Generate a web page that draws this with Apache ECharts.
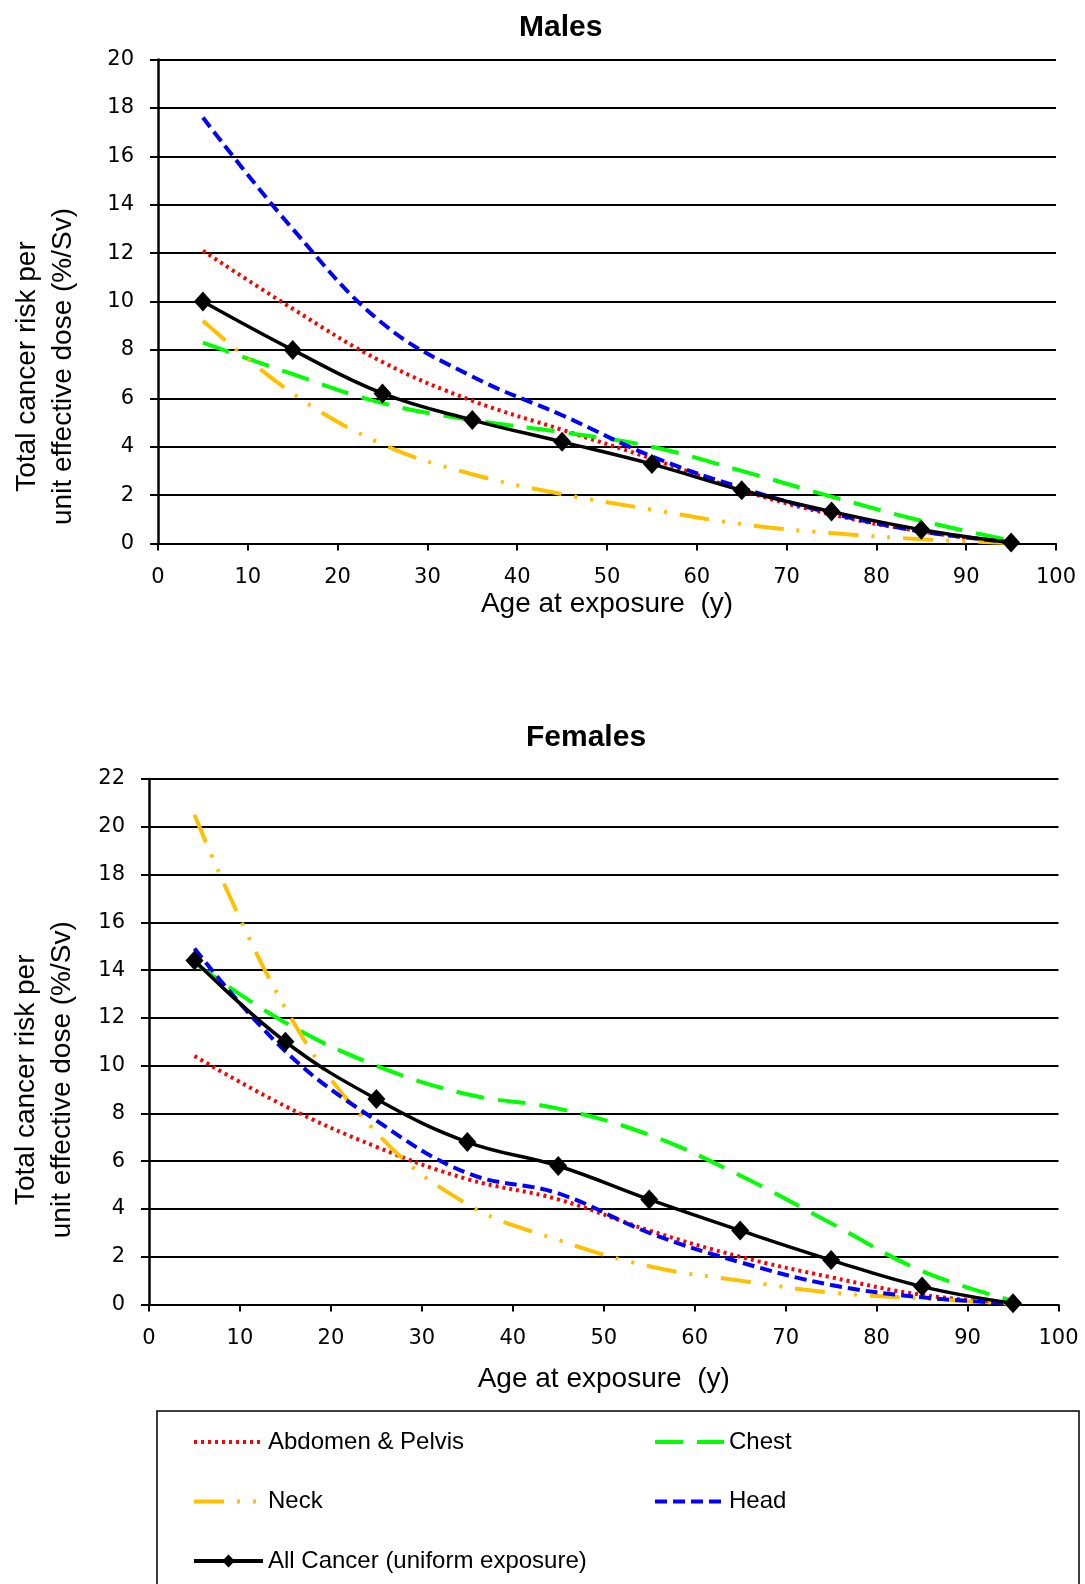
<!DOCTYPE html>
<html>
<head>
<meta charset="utf-8">
<script src="https://cdn.jsdelivr.net/npm/echarts@6/dist/echarts.min.js"></script>
<style>
html,body{margin:0;padding:0;background:#fff;}
#chart{width:1085px;height:1584px;}
</style>
</head>
<body>
<div id="chart"></div>
<script>
// ---- data ----
const ages = [5, 15, 25, 35, 45, 55, 65, 75, 85, 95];
const xTicks = [0, 10, 20, 30, 40, 50, 60, 70, 80, 90, 100];

const maleAbdomen = [12.1, 9.7, 7.5, 5.9, 4.7, 3.5, 2.2, 1.2, 0.5, 0.05];
const maleChest   = [8.3, 7.0, 5.8, 5.1, 4.6, 4.0, 3.0, 1.94, 0.94, 0.12];
const maleNeck    = [9.2, 6.2, 4.1, 2.86, 2.04, 1.4, 0.8, 0.43, 0.18, 0.02];
const maleHead    = [17.6, 13.0, 9.1, 6.9, 5.3, 3.6, 2.3, 1.25, 0.5, 0.05];
const maleAll     = [10.0, 8.0, 6.2, 5.1, 4.2, 3.28, 2.2, 1.32, 0.57, 0.04];

const femaleAbdomen = [10.4, 8.3, 6.6, 5.25, 4.4, 3.1, 2.0, 1.14, 0.4, 0.05];
const femaleChest   = [14.3, 11.8, 10.0, 8.8, 8.2, 7.1, 5.4, 3.4, 1.4, 0.15];
const femaleNeck    = [20.5, 12.4, 7.2, 4.2, 2.7, 1.6, 1.0, 0.5, 0.25, 0.03];
const femaleHead    = [14.9, 10.6, 7.7, 5.5, 4.65, 3.0, 1.77, 0.82, 0.3, 0.05];
const femaleAll     = [14.4, 11.0, 8.6, 6.8, 5.8, 4.4, 3.1, 1.86, 0.75, 0.05];

const names = {
  abd: 'Abdomen & Pelvis',
  chest: 'Chest',
  neck: 'Neck',
  head: 'Head',
  all: 'All Cancer (uniform exposure)'
};
const titles = ['Males', 'Females'];
const xName = 'Age at exposure  (y)';
const yName = 'Total cancer risk per\nunit effective dose (%/Sv)';

// ---- build ----
const pairs = arr => ages.map((a, i) => [a, arr[i]]);
const SMOOTH = 0.4;
const LW = 4;
const styles = {
  abd:   { color: '#FF0000', type: [3, 4] },
  chest: { color: '#00FF00', type: [28, 14] },
  neck:  { color: '#FFC000', type: [30, 13, 3, 13, 3, 13] },
  head:  { color: '#0000FF', type: [12, 6] },
  all:   { color: '#000000', type: 'solid' }
};
function mk(key, arr, gi) {
  const s = styles[key];
  const isAll = key === 'all';
  return {
    type: 'line',
    name: names[key],
    xAxisIndex: gi, yAxisIndex: gi,
    data: pairs(arr),
    smooth: SMOOTH,
    symbol: isAll ? 'diamond' : 'none',
    symbolSize: [18, 20],
    showSymbol: isAll,
    itemStyle: { color: s.color, borderWidth: 0 },
    lineStyle: { color: s.color, width: isAll ? 3.5 : LW, type: s.type, cap: 'butt' },
    emphasis: { disabled: true },
    z: isAll ? 5 : 3
  };
}
const tickFont = { fontFamily: 'DejaVu Sans', fontSize: 21, color: '#000' };
const nameFont = { fontFamily: 'Liberation Sans', fontSize: 28, color: '#000' };

function xAxis(gi, gap) {
  return {
    type: 'value', gridIndex: gi, min: 0, max: 100, interval: 10,
    axisLine: { show: true, onZero: false, lineStyle: { color: '#000', width: 2 } },
    axisTick: { show: true, length: 7, lineStyle: { color: '#000', width: 2 } },
    axisLabel: Object.assign({ margin: 24 }, tickFont),
    splitLine: { show: false },
    name: xName, nameLocation: 'middle', nameGap: gap,
    nameTextStyle: nameFont
  };
}
function yAxis(gi, max, gap, pad) {
  return {
    type: 'value', gridIndex: gi, min: 0, max: max, interval: 2,
    axisLine: { show: true, lineStyle: { color: '#000', width: 2.5 } },
    axisTick: { show: true, length: 8, lineStyle: { color: '#000', width: 2 } },
    axisLabel: Object.assign({ margin: 24 }, tickFont),
    splitLine: { show: true, lineStyle: { color: '#000', width: 2 } },
    name: yName, nameLocation: 'middle', nameGap: gap, nameRotate: 90,
    nameTextStyle: Object.assign({ lineHeight: 36, padding: [0, pad, 0, 0] }, nameFont)
  };
}

const legendText = { fontFamily: 'Liberation Sans', fontSize: 24, color: '#000', lineHeight: 24 };
const noSym = { opacity: 0 };
const legendCommon = { orient: 'vertical', top: 1425, itemWidth: 69, itemHeight: 16, itemGap: 35.5,
  textStyle: legendText, selectedMode: false, lineStyle: { width: 4 } };
const option = {
  animation: false,
  backgroundColor: '#fff',
  title: [
    { text: titles[0], left: 514, top: 8, textStyle: { fontFamily: 'Liberation Sans', fontSize: 30, fontWeight: 'bold', color: '#000' } },
    { text: titles[1], left: 521, top: 718, textStyle: { fontFamily: 'Liberation Sans', fontSize: 30, fontWeight: 'bold', color: '#000' } }
  ],
  grid: [
    { left: 158, right: 29, top: 59.5, bottom: 1040.5 },
    { left: 148.5, right: 26.5, top: 779, bottom: 279.5 }
  ],
  xAxis: [xAxis(0, 47), xAxis(1, 61)],
  yAxis: [yAxis(0, 20, 77, 130), yAxis(1, 22, 69, 76)],
  legend: [
    Object.assign({ left: 187, data: [
      { name: names.abd, itemStyle: noSym },
      { name: names.neck, itemStyle: noSym },
      { name: names.all }
    ] }, legendCommon),
    Object.assign({ left: 648, data: [
      { name: names.chest, itemStyle: noSym },
      { name: names.head, itemStyle: noSym }
    ] }, legendCommon)
  ],
  graphic: [
    { type: 'rect', silent: true, z: -1,
      shape: { x: 157, y: 1411, width: 922, height: 220 },
      style: { fill: 'none', stroke: '#000', lineWidth: 1.5 } }
  ],
  series: [
    mk('abd', maleAbdomen, 0), mk('chest', maleChest, 0), mk('neck', maleNeck, 0), mk('head', maleHead, 0), mk('all', maleAll, 0),
    mk('abd', femaleAbdomen, 1), mk('chest', femaleChest, 1), mk('neck', femaleNeck, 1), mk('head', femaleHead, 1), mk('all', femaleAll, 1)
  ]
};
const chart = echarts.init(document.getElementById('chart'), null, { renderer: 'canvas' });
chart.setOption(option);
</script>
</body>
</html>
